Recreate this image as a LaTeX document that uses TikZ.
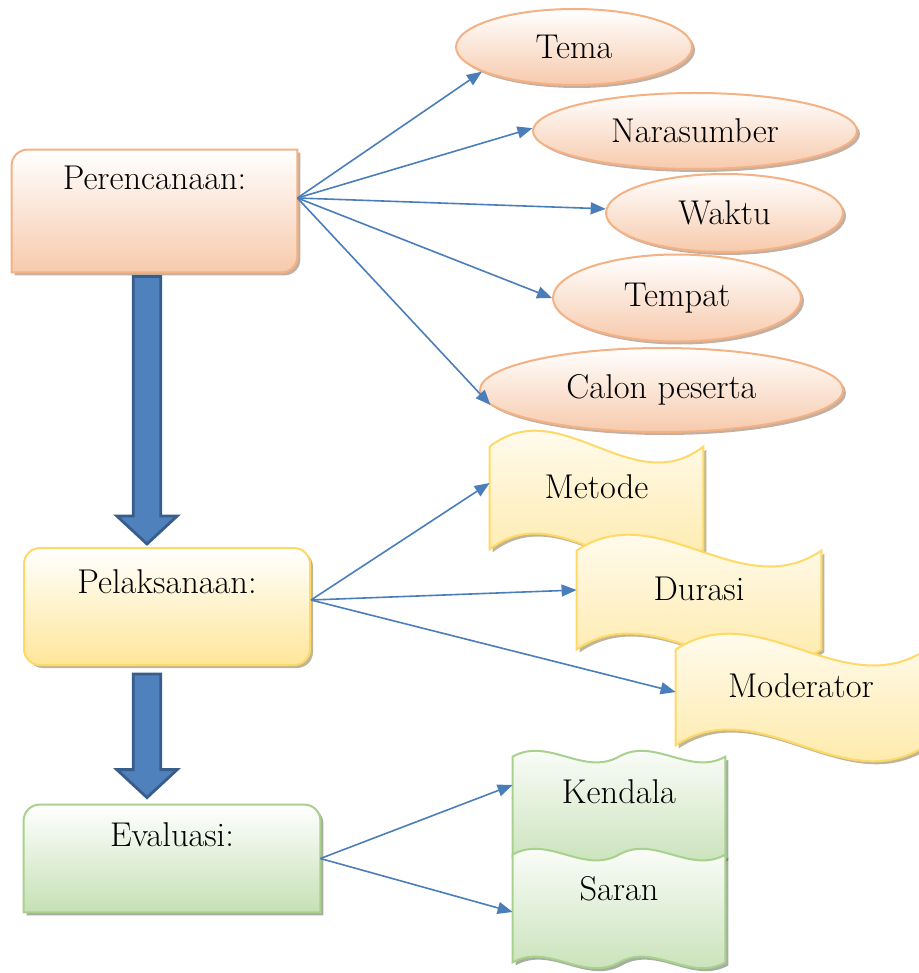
\documentclass[tikz,border=0pt]{standalone}
\usepackage{tikz}
\usetikzlibrary{arrows.meta,shapes.geometric,calc,shadows,backgrounds}
\definecolor{planline}{HTML}{F4B183}
\definecolor{planfill}{HTML}{F7CAAC}
\definecolor{execline}{HTML}{FFD966}
\definecolor{execfill}{HTML}{FFE699}
\definecolor{evalline}{HTML}{A9D18E}
\definecolor{evalfill}{HTML}{C5E0B4}
\definecolor{linkblue}{HTML}{4A7EBB}
\definecolor{blockfill}{HTML}{4F81BD}
\definecolor{blockline}{HTML}{385D8A}
\newcommand{\flagwave}[2]{%
  \path[#1] (#2.north west)
    .. controls ($(#2.north west)!0.333!(#2.north east)+(0pt,27.5pt)$)
    and ($(#2.north west)!0.667!(#2.north east)+(0pt,-27.5pt)$) .. (#2.north east)
    -- (#2.south east)
    .. controls ($(#2.south west)!0.667!(#2.south east)+(0pt,-27.5pt)$)
    and ($(#2.south west)!0.333!(#2.south east)+(0pt,27.5pt)$) .. (#2.south west)
    -- cycle;}
\newcommand{\doublewave}[2]{%
  \path[#1] (#2.north west)
    .. controls ($(#2.north west)!0.167!(#2.north east)+(0pt,10pt)$)
    and ($(#2.north west)!0.333!(#2.north east)+(0pt,-10pt)$) .. ($(#2.north west)!0.5!(#2.north east)$)
    .. controls ($(#2.north west)!0.667!(#2.north east)+(0pt,10pt)$)
    and ($(#2.north west)!0.833!(#2.north east)+(0pt,-10pt)$) .. (#2.north east)
    -- (#2.south east)
    .. controls ($(#2.south west)!0.833!(#2.south east)+(0pt,-10pt)$)
    and ($(#2.south west)!0.667!(#2.south east)+(0pt,10pt)$) .. ($(#2.south west)!0.5!(#2.south east)$)
    .. controls ($(#2.south west)!0.333!(#2.south east)+(0pt,-10pt)$)
    and ($(#2.south west)!0.167!(#2.south east)+(0pt,10pt)$) .. (#2.south west)
    -- cycle;}
\newcommand{\blockdown}[2]{%
  \draw[blockarrow] ($(#1)+(-6.9pt,0pt)$) -- ($(#2)+(-6.9pt,14pt)$) -- ($(#2)+(-15.1pt,14pt)$)
    -- (#2) -- ($(#2)+(15.1pt,14pt)$) -- ($(#2)+(6.9pt,14pt)$) -- ($(#1)+(6.9pt,0pt)$) -- cycle;}
\tikzset{
  labelfont/.style={font=\fontsize{17.2pt}{20pt}\selectfont},
  stagebox/.style={labelfont, inner sep=0pt, align=center, text height=11pt, text depth=#1},
  wavetext/.style={labelfont, inner sep=0pt, text height=11pt, text depth=#1},
  wavetext/.default=11pt,
  planshape/.style={draw=planline, line width=1pt, top color=white, bottom color=planfill,
    drop shadow={shadow xshift=1.5pt, shadow yshift=-1.5pt, fill=planline!55!black, opacity=.5}},
  execshape/.style={draw=execline, line width=1pt, top color=white, bottom color=execfill,
    drop shadow={shadow xshift=1.5pt, shadow yshift=-1.5pt, fill=execline!50!black, opacity=.5}},
  evalshape/.style={draw=evalline, line width=1pt, top color=white, bottom color=evalfill,
    drop shadow={shadow xshift=1.5pt, shadow yshift=-1.5pt, fill=evalline!45!black, opacity=.5}},
  topicoval/.style={planshape, ellipse, labelfont, inner sep=0pt},
  link/.style={draw=linkblue, line width=0.8pt, -{Triangle[length=7.5pt,width=6pt]}},
  blockarrow/.style={fill=blockfill, draw=blockline, line width=1.4pt, line join=miter}
}
\begin{document}
\begin{tikzpicture}[x=0.5pt, y=-0.5pt]
\useasboundingbox (0,0) rectangle (919,973);

\node[stagebox=32pt, minimum width=142.5pt, minimum height=61pt] (plan) at (154.5,211) {Perencanaan:};
\node[stagebox=24.5pt, execshape, rounded corners=8pt, minimum width=143pt, minimum height=58.5pt] (exec) at (167,606.5) {Pelaksanaan:};
\node[stagebox=23.5pt, minimum width=148pt, minimum height=53.5pt] (eval) at (172,858.5) {Evaluasi:};

\node[topicoval, minimum width=118pt, minimum height=38pt] (tema) at (574,47) {Tema};
\node[topicoval, minimum width=162pt, minimum height=38pt] (narasumber) at (695,131) {Narasumber};
\node[topicoval, minimum width=118.5pt, minimum height=39pt] (waktu) at (724.5,213) {Waktu};
\node[topicoval, minimum width=124pt, minimum height=43.5pt] (tempat) at (677,298) {Tempat};
\node[topicoval, minimum width=181.5pt, minimum height=42pt] (calon) at (661.5,390) {Calon peserta};

\node[wavetext, minimum width=106.5pt, minimum height=51pt] (metode) at (596.5,498) {Metode};
\node[wavetext, minimum width=122pt, minimum height=49pt] (durasi) at (699,600) {Durasi};
\node[wavetext, minimum width=125pt, minimum height=47.5pt] (moderator) at (801,697.5) {Moderator};
\node[wavetext=15pt, minimum width=106pt, minimum height=50pt] (kendala) at (619,807) {Kendala};
\node[wavetext=19.5pt, minimum width=106pt, minimum height=53.5pt] (saran) at (619,908.5) {Saran};

\begin{scope}[on background layer]
\path[planshape] ([yshift=-8pt]plan.north west)
  .. controls ([yshift=-3.6pt]plan.north west) and ([xshift=3.6pt]plan.north west) .. ([xshift=8pt]plan.north west)
  -- (plan.north east) -- ([yshift=8pt]plan.south east)
  .. controls ([yshift=3.6pt]plan.south east) and ([xshift=-3.6pt]plan.south east) .. ([xshift=-8pt]plan.south east)
  -- (plan.south west) -- cycle;
\path[evalshape] (eval.south west) -- ([yshift=-8pt]eval.north west)
  .. controls ([yshift=-3.6pt]eval.north west) and ([xshift=3.6pt]eval.north west) .. ([xshift=8pt]eval.north west)
  -- ([xshift=-8pt]eval.north east)
  .. controls ([xshift=-3.6pt]eval.north east) and ([yshift=-3.6pt]eval.north east) .. ([yshift=-8pt]eval.north east)
  -- (eval.south east) -- cycle;
\flagwave{execshape}{metode}
\flagwave{execshape}{durasi}
\flagwave{execshape}{moderator}
\doublewave{evalshape}{kendala}
\doublewave{evalshape}{saran}
\end{scope}

\coordinate (arrowtop1) at ([xshift=-3.75pt,yshift=-2pt]plan.south);
\coordinate (arrowtip1) at ([xshift=-10pt,yshift=1.5pt]exec.north);
\coordinate (arrowtop2) at ([xshift=-10pt,yshift=-4pt]exec.south);
\coordinate (arrowtip2) at ([xshift=-12.5pt,yshift=3.5pt]eval.north);
\blockdown{arrowtop1}{arrowtip1}
\blockdown{arrowtop2}{arrowtip2}

\draw[link] ([yshift=6.5pt]plan.east) -- (tema.195);
\draw[link] ([yshift=6.5pt]plan.east) -- (narasumber.179);
\draw[link] ([yshift=6.5pt]plan.east) -- (waktu.178);
\draw[link] ([yshift=6.5pt]plan.east) -- (tempat.west);
\draw[link] ([yshift=6.5pt]plan.east) -- (calon.185);

\draw[link] ([yshift=3.25pt]exec.east) -- ([yshift=7.5pt]metode.west);
\draw[link] ([yshift=3.25pt]exec.east) -- ([yshift=5pt]durasi.west);
\draw[link] ([yshift=3.25pt]exec.east) -- ([yshift=2.75pt]moderator.west);

\draw[link] (eval.east) -- ([yshift=11pt]kendala.west);
\draw[link] (eval.east) -- ([yshift=-1.75pt]saran.west);
\end{tikzpicture}
\end{document}
